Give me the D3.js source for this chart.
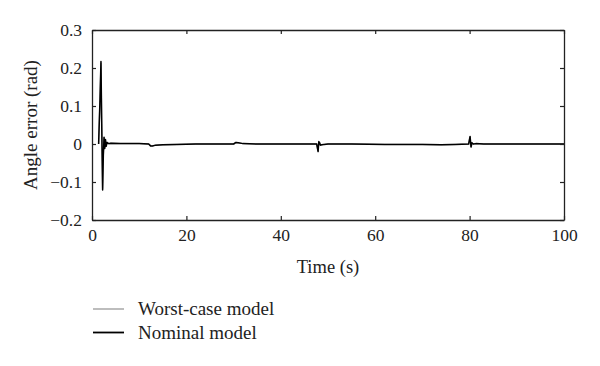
<!DOCTYPE html>
<html><head><meta charset="utf-8">
<script src="https://cdn.jsdelivr.net/npm/d3@7"></script>
<style>body{margin:0;background:#fff}svg{display:block}text{font-family:"Liberation Serif","Times New Roman",serif;fill:#222}</style>
</head><body><svg id="c" width="600" height="366"></svg>
<script>
// Data
const time = [1.4,1.7,1.9,2.05,2.25,2.4,2.55,2.7,2.85,3.0,3.2,3.5,4,6,10,12,12.4,12.8,13.5,15,18,22,28,30,30.5,31,32,35,40,45,47.6,47.9,48.05,48.2,48.4,48.7,49.2,50,55,62,70,74,77,79.8,80.1,80.3,80.5,80.8,81.3,83,90,100];
const nominal = [0,0.12,0.217,0.06,-0.121,-0.03,0.018,-0.012,0.012,-0.006,0.004,0.001,0.002,0.001,0.001,0.0,-0.005,-0.005,-0.003,-0.002,-0.001,0.0,0.0,0.0,0.004,0.003,0.001,0.0,0.0,0.0,0.0,-0.02,0.006,0.004,-0.003,-0.002,-0.001,0.0,0.0,-0.001,-0.001,-0.002,-0.001,0.0,0.02,-0.008,0.003,0.0,0.001,0.0,0.0,0.0];
const worstCase = [0,0.118,0.214,0.058,-0.118,-0.029,0.017,-0.011,0.011,-0.005,0.004,0.001,0.002,0.001,0.001,0.0,-0.004,-0.005,-0.003,-0.002,-0.001,0.0,0.0,0.0,0.004,0.003,0.001,0.0,0.0,0.0,0.0,-0.019,0.006,0.004,-0.003,-0.002,-0.001,0.0,0.0,-0.001,-0.001,-0.002,-0.001,0.0,0.019,-0.008,0.003,0.0,0.001,0.0,0.0,0.0];
const xTicks = [0,20,40,60,80,100];
const yTicks = [-0.2,-0.1,0,0.1,0.2,0.3];
const seriesNames = ["Worst-case model","Nominal model"];

const svg = d3.select("#c");
const L=92,R=564,T=30,B=220;
const x = d3.scaleLinear().domain([0,100]).range([L,R]);
const y = d3.scaleLinear().domain([-0.2,0.3]).range([B,T]);

const fmtY = d => d===0 ? "0" : (d<0 ? "\u2212"+Math.abs(d).toFixed(1) : d.toFixed(1));

// axes (ticks inward)
const gB = svg.append("g").attr("transform",`translate(0,${B})`)
  .call(d3.axisBottom(x).tickValues(xTicks).tickSizeInner(-4).tickSizeOuter(0).tickPadding(9).tickFormat(d3.format("d")));
const gT = svg.append("g").attr("transform",`translate(0,${T})`)
  .call(d3.axisTop(x).tickValues(xTicks).tickSizeInner(-4).tickSizeOuter(0).tickFormat(""));
const gL = svg.append("g").attr("transform",`translate(${L},0)`)
  .call(d3.axisLeft(y).tickValues(yTicks).tickSizeInner(-4).tickSizeOuter(0).tickPadding(10).tickFormat(fmtY));
const gR = svg.append("g").attr("transform",`translate(${R},0)`)
  .call(d3.axisRight(y).tickValues(yTicks).tickSizeInner(-4).tickSizeOuter(0).tickFormat(""));
[gB,gT,gL,gR].forEach(g=>{
  g.selectAll("path").attr("stroke","#222").attr("stroke-width",1.3);
  g.selectAll("line").attr("stroke","#222").attr("stroke-width",1.2);
  g.selectAll("text").style("font-size","17.5px").attr("fill","#222");
});
gB.selectAll("text").attr("dy","0.71em");

// series
const line = d3.line().x((d,i)=>x(time[i])).y(d=>y(d));
svg.append("path").datum(worstCase).attr("d",line).attr("fill","none").attr("stroke","#999").attr("stroke-width",1.3);
svg.append("path").datum(nominal).attr("d",line).attr("fill","none").attr("stroke","#000").attr("stroke-width",1.5).attr("stroke-linejoin","round");

// labels
svg.append("text").attr("x",(L+R)/2).attr("y",273).attr("text-anchor","middle").style("font-size","18.5px").text("Time (s)");
svg.append("text").attr("transform",`translate(37,125) rotate(-90)`).attr("text-anchor","middle").style("font-size","19px").text("Angle error (rad)");

// legend
const leg = svg.append("g");
const lc = ["#999","#000"], lw=[1.3,1.8];
seriesNames.forEach((n,i)=>{
  const yy = 309 + i*23.5;
  leg.append("line").attr("x1",93).attr("x2",124).attr("y1",yy).attr("y2",yy).attr("stroke",lc[i]).attr("stroke-width",lw[i]);
  leg.append("text").attr("x",138).attr("y",yy+6).style("font-size","19px").text(n);
});
</script></body></html>
